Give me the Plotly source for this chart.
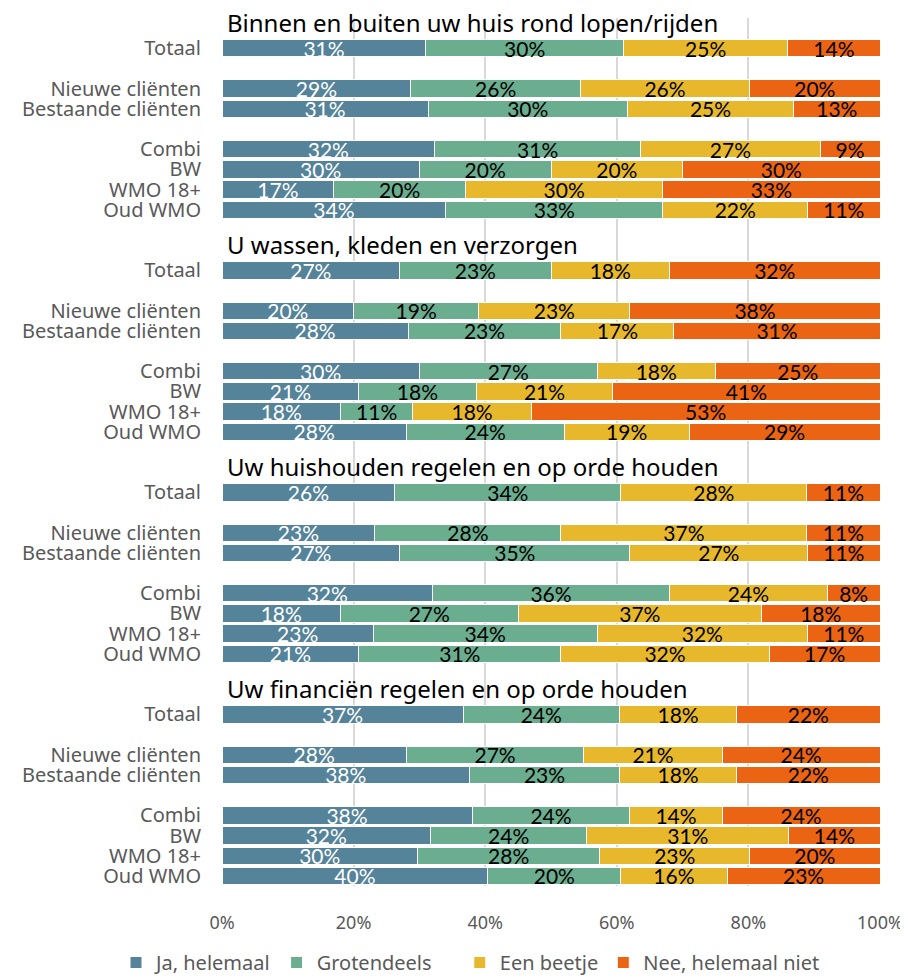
import plotly.graph_objects as go

# four question blocks, each with the same seven groups
sections = [
    "Binnen en buiten uw huis rond lopen/rijden",
    "U wassen, kleden en verzorgen",
    "Uw huishouden regelen en op orde houden",
    "Uw financiën regelen en op orde houden",
]
groups = ["Totaal", "Nieuwe cliënten", "Bestaande cliënten", "Combi", "BW", "WMO 18+", "Oud WMO"]
# slot of each group inside a block (empty slots give the gaps)
group_slots = [0, 2, 3, 5, 6, 7, 8]
block_size = 11

series_names = ["Ja, helemaal", "Grotendeels", "Een beetje", "Nee, helemaal niet"]
series_colors = ["#55839A", "#6AAD8F", "#E7B82C", "#EA6414"]
series_text_colors = ["white", "black", "black", "black"]
# legend split in two halves so the row does not wrap
series_legend = ["legend", "legend", "legend2", "legend2"]

# values per block, in the order of `groups`
ja_helemaal = [
    31, 29, 31, 32, 30, 17, 34,
    27, 20, 28, 30, 21, 18, 28,
    26, 23, 27, 32, 18, 23, 21,
    37, 28, 38, 38, 32, 30, 40,
]
grotendeels = [
    30, 26, 30, 31, 20, 20, 33,
    23, 19, 23, 27, 18, 11, 24,
    34, 28, 35, 36, 27, 34, 31,
    24, 27, 23, 24, 24, 28, 20,
]
een_beetje = [
    25, 26, 25, 27, 20, 30, 22,
    18, 23, 17, 18, 21, 18, 19,
    28, 37, 27, 24, 37, 32, 32,
    18, 21, 18, 14, 31, 23, 16,
]
nee_helemaal_niet = [
    14, 20, 13, 9, 30, 33, 11,
    32, 38, 31, 25, 41, 53, 29,
    11, 11, 11, 8, 18, 11, 17,
    22, 24, 22, 24, 14, 20, 23,
]
series_values = [ja_helemaal, grotendeels, een_beetje, nee_helemaal_niet]

row_pos = [b * block_size + s for b in range(len(sections)) for s in group_slots]
row_labels = [g for _ in sections for g in groups]
title_pos = [b * block_size - 1 for b in range(len(sections))]

fig = go.Figure()
for name, vals, color, tcolor, leg in zip(
    series_names, series_values, series_colors, series_text_colors, series_legend
):
    fig.add_trace(
        go.Bar(
            name=name,
            y=row_pos,
            x=vals,
            orientation="h",
            width=0.86,
            marker=dict(color=color, line=dict(color="white", width=1)),
            text=[f"{v}%" for v in vals],
            textposition="inside",
            insidetextanchor="middle",
            textfont=dict(color=tcolor, size=21, family="Lato"),
            hoverinfo="x+name",
            legend=leg,
        )
    )

for title, pos in zip(sections, title_pos):
    fig.add_annotation(
        text=title,
        x=0,
        xref="x",
        xanchor="left",
        xshift=3,
        y=pos,
        yref="y",
        yanchor="middle",
        yshift=6,
        showarrow=False,
        font=dict(size=24, color="black", family="Noto Sans"),
    )

legend_style = dict(
    orientation="h",
    xref="container",
    xanchor="left",
    yref="container",
    y=0.017,
    yanchor="middle",
    font=dict(size=20, color="#595959"),
    traceorder="normal",
    itemwidth=30,
)

# page body adds 8px around the figure, so the figure is 8px smaller
fig.update_layout(
    barmode="stack",
    barnorm="percent",
    width=900,
    height=971,
    margin=dict(l=214, r=28, t=10, b=93),
    plot_bgcolor="white",
    paper_bgcolor="white",
    font=dict(family="Noto Sans", color="#595959", size=18),
    uniformtext=dict(minsize=21, mode="show"),
    legend=dict(legend_style, x=0.12),
    legend2=dict(legend_style, x=0.502),
    showlegend=True,
)
fig.update_xaxes(
    range=[0, 100],
    tickvals=[0, 20, 40, 60, 80, 100],
    ticktext=["0%", "20%", "40%", "60%", "80%", "100%"],
    showgrid=True,
    gridcolor="#D9D9D9",
    gridwidth=2,
    zeroline=False,
    ticks="outside",
    ticklen=20,
    tickcolor="rgba(0,0,0,0)",
    tickfont=dict(size=18, color="#595959"),
    automargin=False,
)
fig.update_yaxes(
    range=[row_pos[-1] + 0.5, title_pos[0] - 0.5],
    tickvals=row_pos,
    ticktext=row_labels,
    showgrid=False,
    zeroline=False,
    ticks="outside",
    ticklen=16,
    tickcolor="rgba(0,0,0,0)",
    tickfont=dict(size=20, color="#595959"),
    automargin=False,
)

fig.write_html("out.html")
